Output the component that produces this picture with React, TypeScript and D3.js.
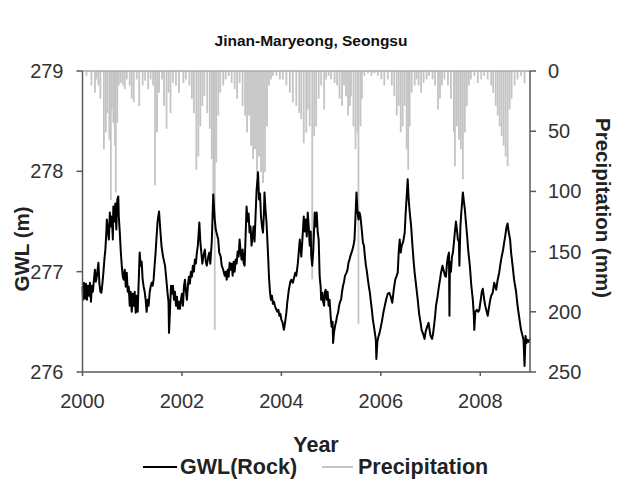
import React from "react";
import * as d3 from "d3";

// groundwater level (m) at roughly weekly spacing
const gwlDate = [
  2000.0, 2000.01, 2000.03, 2000.05, 2000.07, 2000.09, 2000.11, 2000.13, 2000.15, 2000.17, 2000.19, 2000.21, 2000.23, 2000.25, 2000.27, 2000.29, 2000.32, 2000.34, 2000.36, 2000.38,
  2000.4, 2000.42, 2000.44, 2000.46, 2000.48, 2000.49, 2000.51, 2000.53, 2000.55, 2000.57, 2000.59, 2000.61, 2000.62, 2000.64, 2000.66, 2000.68, 2000.7, 2000.72, 2000.73, 2000.75,
  2000.77, 2000.79, 2000.81, 2000.83, 2000.85, 2000.87, 2000.89, 2000.91, 2000.93, 2000.95, 2000.97, 2000.99, 2001.01, 2001.03, 2001.05, 2001.07, 2001.09, 2001.11, 2001.13, 2001.15,
  2001.17, 2001.19, 2001.21, 2001.23, 2001.25, 2001.27, 2001.29, 2001.31, 2001.33, 2001.35, 2001.37, 2001.39, 2001.41, 2001.43, 2001.45, 2001.47, 2001.49, 2001.51, 2001.54, 2001.56,
  2001.59, 2001.62, 2001.66, 2001.69, 2001.71, 2001.73, 2001.74, 2001.76, 2001.78, 2001.8, 2001.82, 2001.84, 2001.86, 2001.88, 2001.9, 2001.92, 2001.94, 2001.96, 2001.98, 2002.0,
  2002.02, 2002.04, 2002.06, 2002.08, 2002.1, 2002.12, 2002.14, 2002.16, 2002.18, 2002.2, 2002.22, 2002.24, 2002.26, 2002.28, 2002.3, 2002.32, 2002.35, 2002.37, 2002.39, 2002.41,
  2002.43, 2002.46, 2002.48, 2002.5, 2002.53, 2002.55, 2002.57, 2002.6, 2002.63, 2002.65, 2002.66, 2002.68, 2002.7, 2002.73, 2002.75, 2002.78, 2002.8, 2002.83, 2002.86, 2002.88,
  2002.9, 2002.92, 2002.94, 2002.96, 2002.98, 2003.0, 2003.02, 2003.04, 2003.06, 2003.08, 2003.1, 2003.12, 2003.14, 2003.16, 2003.18, 2003.2, 2003.22, 2003.24, 2003.26, 2003.28,
  2003.3, 2003.32, 2003.34, 2003.36, 2003.38, 2003.4, 2003.42, 2003.44, 2003.46, 2003.48, 2003.5, 2003.53, 2003.55, 2003.57, 2003.59, 2003.61, 2003.63, 2003.65, 2003.66, 2003.68,
  2003.7, 2003.73, 2003.75, 2003.77, 2003.79, 2003.81, 2003.83, 2003.85, 2003.87, 2003.89, 2003.92, 2003.94, 2003.96, 2003.98, 2004.0, 2004.02, 2004.05, 2004.07, 2004.1, 2004.12,
  2004.15, 2004.18, 2004.2, 2004.23, 2004.26, 2004.28, 2004.3, 2004.33, 2004.35, 2004.37, 2004.4, 2004.42, 2004.45, 2004.47, 2004.49, 2004.51, 2004.53, 2004.55, 2004.57, 2004.59,
  2004.6, 2004.62, 2004.64, 2004.66, 2004.67, 2004.69, 2004.71, 2004.73, 2004.75, 2004.77, 2004.79, 2004.8, 2004.82, 2004.84, 2004.86, 2004.87, 2004.89, 2004.91, 2004.93, 2004.95,
  2004.97, 2004.99, 2005.01, 2005.03, 2005.04, 2005.06, 2005.08, 2005.1, 2005.12, 2005.14, 2005.16, 2005.18, 2005.2, 2005.22, 2005.24, 2005.26, 2005.28, 2005.31, 2005.33, 2005.35,
  2005.37, 2005.39, 2005.41, 2005.43, 2005.45, 2005.47, 2005.49, 2005.51, 2005.53, 2005.55, 2005.57, 2005.59, 2005.62, 2005.64, 2005.66, 2005.68, 2005.7, 2005.72, 2005.74, 2005.76,
  2005.78, 2005.8, 2005.82, 2005.84, 2005.86, 2005.88, 2005.9, 2005.91, 2005.93, 2005.95, 2005.97, 2006.0, 2006.02, 2006.05, 2006.08, 2006.11, 2006.14, 2006.17, 2006.2, 2006.23,
  2006.26, 2006.29, 2006.32, 2006.34, 2006.36, 2006.38, 2006.4, 2006.42, 2006.45, 2006.48, 2006.5, 2006.52, 2006.54, 2006.56, 2006.58, 2006.61, 2006.63, 2006.66, 2006.68, 2006.71,
  2006.74, 2006.77, 2006.8, 2006.82, 2006.85, 2006.88, 2006.9, 2006.93, 2006.96, 2006.98, 2007.0, 2007.03, 2007.05, 2007.07, 2007.09, 2007.11, 2007.14, 2007.17, 2007.19, 2007.21,
  2007.24, 2007.27, 2007.29, 2007.31, 2007.33, 2007.35, 2007.37, 2007.38, 2007.39, 2007.41, 2007.43, 2007.45, 2007.47, 2007.49, 2007.51, 2007.53, 2007.55, 2007.57, 2007.58, 2007.6,
  2007.62, 2007.65, 2007.67, 2007.69, 2007.71, 2007.73, 2007.76, 2007.79, 2007.82, 2007.85, 2007.87, 2007.88, 2007.9, 2007.93, 2007.96, 2007.98, 2008.01, 2008.03, 2008.05, 2008.08,
  2008.1, 2008.13, 2008.15, 2008.18, 2008.2, 2008.22, 2008.25, 2008.28, 2008.3, 2008.32, 2008.35, 2008.38, 2008.4, 2008.43, 2008.46, 2008.48, 2008.5, 2008.53, 2008.55, 2008.57,
  2008.6, 2008.62, 2008.65, 2008.68, 2008.72, 2008.75, 2008.79, 2008.82, 2008.85, 2008.87, 2008.89, 2008.91, 2008.93, 2008.95, 2008.97, 2009.0,
];
const gwlLevel = [
  276.85, 276.72, 276.89, 276.73, 276.88, 276.72, 276.86, 276.76, 276.89, 276.7, 276.86, 276.8, 276.92, 277.02, 276.9, 276.96, 277.09, 276.88, 276.8, 276.79,
  276.88, 276.99, 277.12, 277.22, 277.4, 277.52, 277.42, 277.32, 277.59, 277.45, 277.55, 277.32, 277.65, 277.5, 277.68, 277.42, 277.72, 277.75, 277.55, 277.39,
  277.2, 277.06, 276.95, 276.92, 277.02, 276.85, 276.99, 276.8, 276.85, 276.66, 276.8, 276.6, 276.78, 276.66, 276.8, 276.59, 276.76, 276.6, 276.9, 277.19,
  277.06, 277.1, 276.92, 276.85, 276.8, 276.72, 276.6, 276.72, 276.66, 276.79, 276.85, 276.89, 276.86, 276.92, 277.06, 277.19, 277.35, 277.5, 277.6, 277.45,
  277.25, 277.15, 277.06, 276.9, 276.79, 276.7, 276.39, 276.62, 276.86, 276.78, 276.86, 276.72, 276.8, 276.66, 276.75, 276.63, 276.7, 276.63, 276.72, 276.78,
  276.66, 276.85, 276.92, 276.8, 276.72, 276.86, 276.95, 276.88, 277.0, 276.95, 277.06, 277.0, 277.12, 277.08, 277.19, 277.26, 277.49, 277.3, 277.19, 277.08,
  277.15, 277.22, 277.1, 277.06, 277.15, 277.19, 277.08, 277.3, 277.77, 277.6, 277.52, 277.42, 277.38, 277.32, 277.19, 277.15, 277.06, 277.02, 276.96, 277.0,
  276.92, 277.02, 276.95, 277.09, 277.02, 277.08, 276.96, 277.1, 277.0, 277.12, 277.08, 277.2, 277.15, 277.32, 277.2, 277.12, 277.22, 277.09, 277.06, 277.35,
  277.65, 277.5, 277.58, 277.39, 277.45, 277.26, 277.35, 277.45, 277.3, 277.55, 277.8, 277.99, 277.72, 277.78, 277.55, 277.45, 277.39, 277.6, 277.79, 277.62,
  277.5, 277.19, 276.95, 276.8, 276.72, 276.76, 276.68, 276.7, 276.66, 276.63, 276.6, 276.62, 276.56, 276.58, 276.52, 276.5, 276.42, 276.48, 276.59, 276.7,
  276.82, 276.9, 276.92, 276.89, 276.95, 276.99, 276.96, 277.08, 277.2, 277.32, 277.15, 277.3, 277.55, 277.4, 277.52, 277.35, 277.59, 277.45, 277.26, 277.4,
  277.16, 277.06, 277.2, 277.45, 277.59, 277.45, 277.59, 277.4, 277.32, 276.95, 276.85, 276.72, 276.79, 276.7, 276.66, 276.79, 276.82, 276.72, 276.8, 276.66,
  276.72, 276.56, 276.45, 276.5, 276.29, 276.4, 276.46, 276.5, 276.56, 276.59, 276.66, 276.7, 276.72, 276.8, 276.86, 276.9, 276.96, 276.99, 277.02, 277.09,
  277.12, 277.16, 277.19, 277.22, 277.26, 277.32, 277.55, 277.79, 277.6, 277.52, 277.59, 277.55, 277.4, 277.29, 277.26, 277.15, 277.06, 277.0, 276.92, 276.85,
  276.79, 276.7, 276.62, 276.52, 276.46, 276.39, 276.32, 276.13, 276.3, 276.35, 276.38, 276.45, 276.5, 276.59, 276.66, 276.73, 276.78, 276.79, 276.75, 276.69,
  276.82, 276.92, 276.96, 276.99, 277.2, 277.32, 277.19, 277.26, 277.3, 277.39, 277.59, 277.75, 277.92, 277.72, 277.6, 277.45, 277.3, 277.1, 276.99, 276.86,
  276.73, 276.58, 276.49, 276.42, 276.38, 276.33, 276.4, 276.45, 276.49, 276.42, 276.36, 276.33, 276.38, 276.46, 276.55, 276.66, 276.75, 276.86, 276.92, 276.99,
  277.06, 277.0, 276.96, 276.95, 277.08, 277.15, 277.19, 276.56, 277.1, 277.0, 277.15, 277.19, 277.29, 277.4, 277.5, 277.42, 277.32, 277.3, 277.06, 277.45,
  277.6, 277.79, 277.7, 277.62, 277.5, 277.39, 277.2, 277.06, 276.86, 276.72, 276.57, 276.42, 276.6, 276.62, 276.6, 276.62, 276.72, 276.8, 276.83, 276.72,
  276.66, 276.6, 276.56, 276.66, 276.72, 276.76, 276.79, 276.89, 276.86, 276.82, 276.92, 276.99, 277.06, 277.15, 277.22, 277.29, 277.35, 277.45, 277.48, 277.4,
  277.32, 277.19, 277.06, 276.92, 276.8, 276.66, 276.52, 276.42, 276.36, 276.32, 276.06, 276.36, 276.29, 276.32, 276.3, 276.33,
];

// daily precipitation (mm), the visible bars
const rainDate = [
  2000.08, 2000.18, 2000.25, 2000.28, 2000.32, 2000.36, 2000.43, 2000.47, 2000.5, 2000.54, 2000.57, 2000.59, 2000.62, 2000.65, 2000.67, 2000.7, 2000.73, 2000.77, 2000.81, 2000.85,
  2000.89, 2000.95, 2000.99, 2001.03, 2001.09, 2001.14, 2001.21, 2001.26, 2001.32, 2001.37, 2001.42, 2001.46, 2001.5, 2001.54, 2001.6, 2001.64, 2001.69, 2001.73, 2001.77, 2001.82,
  2001.88, 2001.94, 2002.03, 2002.08, 2002.15, 2002.2, 2002.24, 2002.29, 2002.33, 2002.37, 2002.41, 2002.45, 2002.51, 2002.56, 2002.6, 2002.63, 2002.66, 2002.69, 2002.73, 2002.77,
  2002.83, 2002.88, 2002.94, 2003.0, 2003.06, 2003.11, 2003.16, 2003.22, 2003.27, 2003.31, 2003.35, 2003.39, 2003.43, 2003.47, 2003.51, 2003.55, 2003.59, 2003.63, 2003.67, 2003.71,
  2003.75, 2003.79, 2003.83, 2003.9, 2003.97, 2004.03, 2004.1, 2004.17, 2004.23, 2004.3, 2004.36, 2004.4, 2004.45, 2004.5, 2004.53, 2004.57, 2004.62, 2004.66, 2004.7, 2004.75,
  2004.8, 2004.86, 2004.9, 2004.95, 2005.0, 2005.07, 2005.12, 2005.17, 2005.22, 2005.26, 2005.3, 2005.34, 2005.38, 2005.4, 2005.45, 2005.49, 2005.53, 2005.55, 2005.59, 2005.62,
  2005.67, 2005.74, 2005.81, 2005.87, 2005.94, 2006.01, 2006.07, 2006.14, 2006.22, 2006.27, 2006.32, 2006.36, 2006.4, 2006.44, 2006.48, 2006.52, 2006.55, 2006.58, 2006.62, 2006.68,
  2006.72, 2006.76, 2006.81, 2006.86, 2006.92, 2006.97, 2007.04, 2007.09, 2007.15, 2007.19, 2007.23, 2007.28, 2007.35, 2007.41, 2007.47, 2007.49, 2007.53, 2007.57, 2007.61, 2007.65,
  2007.69, 2007.73, 2007.77, 2007.81, 2007.88, 2007.95, 2008.02, 2008.08, 2008.15, 2008.22, 2008.26, 2008.31, 2008.35, 2008.39, 2008.43, 2008.47, 2008.51, 2008.55, 2008.59, 2008.63,
  2008.69, 2008.75, 2008.82, 2008.89,
];
const rainMm = [
  4, 12, 18, 7, 12, 23, 65, 51, 35, 57, 107, 32, 43, 62, 101, 43, 12, 10, 12, 15,
  7, 12, 23, 26, 7, 29, 12, 8, 15, 7, 12, 95, 51, 18, 7, 29, 48, 18, 35, 10,
  12, 18, 10, 7, 12, 23, 35, 82, 71, 46, 29, 21, 35, 48, 73, 107, 215, 76, 37, 18,
  12, 7, 4, 10, 15, 23, 10, 29, 37, 51, 37, 62, 73, 65, 87, 71, 84, 93, 84, 46,
  12, 7, 4, 4, 7, 7, 12, 18, 26, 29, 35, 40, 60, 51, 32, 46, 173, 54, 46, 23,
  12, 32, 7, 4, 7, 10, 12, 23, 29, 12, 21, 37, 29, 21, 46, 65, 51, 210, 46, 23,
  4, 2, 4, 2, 4, 7, 12, 7, 12, 21, 37, 29, 51, 46, 29, 65, 82, 46, 18, 12,
  7, 12, 18, 10, 7, 4, 7, 12, 32, 23, 12, 7, 12, 23, 51, 79, 46, 57, 65, 90,
  51, 29, 12, 7, 4, 10, 7, 4, 7, 12, 18, 29, 37, 46, 54, 62, 71, 79, 32, 23,
  12, 7, 4, 10,
];

const yearTicks = [2000, 2002, 2004, 2006, 2008];
const gwlTicks = [276, 277, 278, 279];
const rainTicks = [0, 50, 100, 150, 200, 250];

const W = 632;
const H = 479;
const left = 82.5;
const right = 530;
const top = 71;
const bottom = 372;
const font = "Arial, 'Liberation Sans', sans-serif";
const axisColor = "#5a5a5a";
const rainColor = "#c4c4c4";

export default function App() {
  const x = d3.scaleLinear().domain([2000, 2009]).range([left, right]);
  const yL = d3.scaleLinear().domain([276, 279]).range([bottom, top]);
  const yR = d3.scaleLinear().domain([0, 250]).range([top, bottom]);

  const gwl = gwlDate.map((d, i) => [d, gwlLevel[i]] as [number, number]);
  const linePath = d3
    .line<[number, number]>()
    .x((d) => x(d[0]))
    .y((d) => yL(d[1]))(gwl);

  return (
    <svg
      width={W}
      height={H}
      style={{ position: "absolute", left: 0, top: 0, background: "#fff" }}
      fontFamily={font}
    >
      <text x={311} y={46} textAnchor="middle" fontSize={15.5} fontWeight="bold" fill="#111">
        Jinan-Maryeong, Seongsu
      </text>

      {/* precipitation bars hang from the top */}
      <g>
        {rainDate.map((d, i) => (
          <rect
            key={i}
            x={x(d) - 0.9}
            y={yR(0)}
            width={1.8}
            height={yR(rainMm[i]) - yR(0)}
            fill={rainColor}
          />
        ))}
      </g>

      <path d={linePath || ""} fill="none" stroke="#000" strokeWidth={2} strokeLinejoin="round" />

      {/* frame */}
      <line x1={left} x2={right} y1={top} y2={top} stroke="#aaa" strokeWidth={1.5} />
      <line x1={left} x2={left} y1={top} y2={bottom} stroke={axisColor} strokeWidth={1.5} />
      <line x1={left} x2={right} y1={bottom} y2={bottom} stroke={axisColor} strokeWidth={1.5} />
      <line x1={right} x2={right} y1={top} y2={bottom} stroke={axisColor} strokeWidth={1.5} />

      {/* left axis */}
      {gwlTicks.map((t) => (
        <g key={t}>
          <line x1={left - 6} x2={left} y1={yL(t)} y2={yL(t)} stroke={axisColor} strokeWidth={1.5} />
          <text x={left - 19} y={yL(t) + 7} textAnchor="end" fontSize={20} fill="#333">
            {t}
          </text>
        </g>
      ))}

      {/* right axis */}
      {rainTicks.map((t) => (
        <g key={t}>
          <line x1={right} x2={right + 6} y1={yR(t)} y2={yR(t)} stroke={axisColor} strokeWidth={1.5} />
          <text x={right + 18} y={yR(t) + 7} textAnchor="start" fontSize={20} fill="#333">
            {t}
          </text>
        </g>
      ))}

      {/* bottom axis */}
      {yearTicks.map((t) => (
        <g key={t}>
          <line x1={x(t)} x2={x(t)} y1={bottom} y2={bottom + 4} stroke={axisColor} strokeWidth={1.5} />
          <text x={x(t)} y={bottom + 36} textAnchor="middle" fontSize={20} fill="#333">
            {t}
          </text>
        </g>
      ))}

      <text
        transform={`translate(29,249) rotate(-90)`}
        textAnchor="middle"
        fontSize={20.5}
        fontWeight="bold"
        fill="#222"
      >
        GWL (m)
      </text>
      <text
        transform={`translate(596,208) rotate(90)`}
        textAnchor="middle"
        fontSize={20.5}
        fontWeight="bold"
        fill="#222"
      >
        Precipitation (mm)
      </text>
      <text x={316} y={452} textAnchor="middle" fontSize={21.5} fontWeight="bold" fill="#222">
        Year
      </text>

      {/* legend */}
      <line x1={143} x2={177} y1={467} y2={467} stroke="#000" strokeWidth={2} />
      <text x={180} y={474} fontSize={21.5} fontWeight="bold" fill="#222">
        GWL(Rock)
      </text>
      <line x1={322} x2={353} y1={467} y2={467} stroke={rainColor} strokeWidth={2} />
      <text x={358} y={474} fontSize={21.5} fontWeight="bold" fill="#222">
        Precipitation
      </text>
    </svg>
  );
}
